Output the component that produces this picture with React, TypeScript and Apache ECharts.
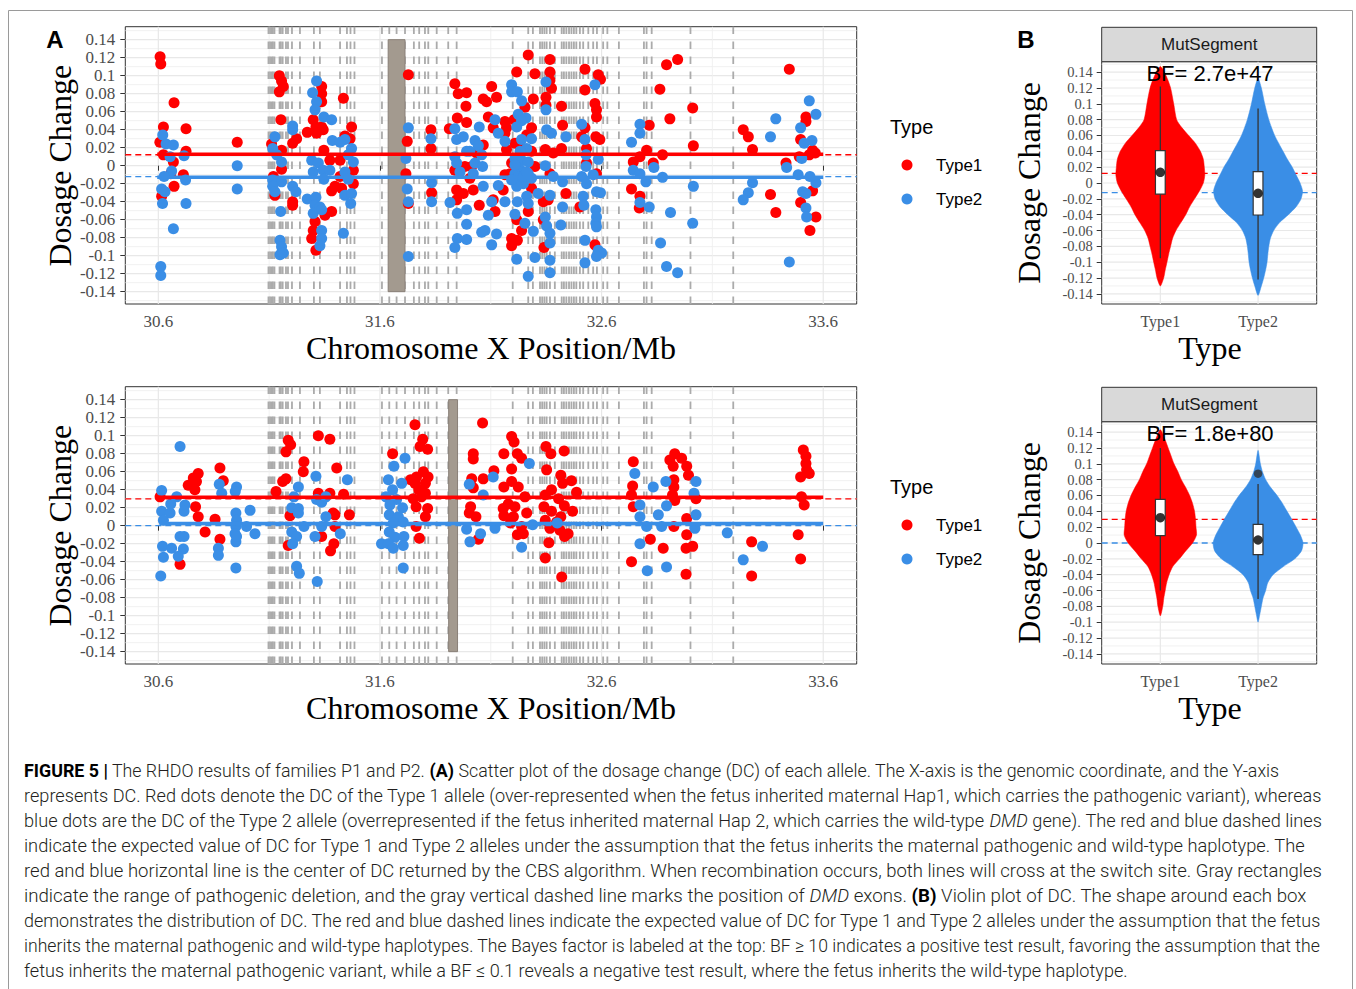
import React, { useEffect, useRef } from 'react';
import * as echarts from 'echarts';

// ---------------- data ----------------
const typeNames = ['Type1', 'Type2'];
const yTickValues = [-0.14, -0.12, -0.1, -0.08, -0.06, -0.04, -0.02, 0, 0.02, 0.04, 0.06, 0.08, 0.1, 0.12, 0.14];
const yMinorValues = [-0.15, -0.13, -0.11, -0.09, -0.07, -0.05, -0.03, -0.01, 0.01, 0.03, 0.05, 0.07, 0.09, 0.11, 0.13, 0.15];
const xTickValues = [30.6, 31.6, 32.6, 33.6];
const xMinorValues = [31.1, 32.1, 33.1];
const typeTickValues = [1, 2];

const scatterXRange = [30.451, 33.751];
const scatterYRange = [-0.1537, 0.1544];
const violinXRange = [0.4, 2.6];
const violinYRange = [-0.1528, 0.1532];

// DMD exon positions (Mb)
const exonPositions = [
  31.097, 31.104, 31.111, 31.117, 31.124, 31.147, 31.153, 31.161, 31.176, 31.185, 31.203, 31.239,
  31.302, 31.329, 31.42, 31.451, 31.467, 31.485, 31.609, 31.642, 31.675, 31.713, 31.753, 31.777,
  31.803, 31.818, 31.856, 31.908, 31.946, 32.199, 32.269, 32.29, 32.322, 32.332, 32.342, 32.352,
  32.367, 32.389, 32.42, 32.43, 32.441, 32.453, 32.464, 32.475, 32.486, 32.502, 32.517, 32.54,
  32.562, 32.579, 32.607, 32.626, 32.678, 32.791, 32.803, 32.826, 33.001, 33.194,
];

const deletionTop = [31.637, 31.713];
const deletionBottom = [31.91, 31.95];
const deletionY = [-0.14, 0.14];

// CBS segment centres and expected values
const cbsXTop = [30.595, 33.6];
const cbsXBottom = [30.605, 33.6];
const cbsTop = [0.0128, -0.0128];
const cbsBottom = [0.0316, 0.0025];
const expectedTop = [0.0122, -0.0122];
const expectedBottom = [0.0298, 0.0];

// Top panel (family P1)
const topType1 = [
  [30.608, 0.121], [30.611, 0.113], [30.671, 0.07], [30.623, 0.043], [30.725, 0.041], [30.607, 0.026], [30.623, 0.012], [30.668, 0.004], [30.725, 0.016], [30.656, -0.009], [30.713, -0.01], [30.671, -0.023], [30.615, -0.034],
  [30.956, 0.026],
  [31.146, 0.1], [31.156, 0.094], [31.164, 0.088], [31.146, 0.082], [31.153, 0.051], [31.111, 0.024], [31.156, 0.017], [31.156, -0.004], [31.119, -0.012], [31.126, -0.033], [31.224, 0.03], [31.206, 0.025], [31.206, -0.04], [31.206, -0.044],
  [31.337, 0.088], [31.337, 0.08], [31.337, 0.071], [31.299, 0.051], [31.311, 0.043], [31.337, 0.043], [31.272, 0.037], [31.314, 0.036], [31.344, 0.04], [31.347, 0.017], [31.374, 0.006], [31.382, -0.028], [31.352, -0.055], [31.382, -0.051], [31.307, -0.062], [31.299, -0.072], [31.292, -0.081], [31.311, -0.094],
  [31.435, 0.075], [31.472, 0.043], [31.442, 0.033], [31.465, 0.03], [31.42, 0.006], [31.48, -0.005], [31.42, -0.012], [31.48, -0.02], [31.397, -0.023], [31.427, -0.025],
  [31.728, 0.101], [31.723, 0.027], [31.717, -0.009], [31.728, -0.042], [31.83, 0.04], [31.83, 0.019], [31.833, -0.03],
  [31.913, 0.041], [31.938, 0.091], [31.953, 0.08], [31.991, 0.081], [31.988, 0.066], [31.949, 0.053], [31.991, 0.048], [31.938, -0.005], [31.983, -0.001], [31.946, -0.027], [31.976, -0.031], [31.946, -0.038],
  [32.104, 0.088], [32.066, 0.074], [32.081, 0.071], [32.126, 0.076], [32.089, 0.054], [32.164, 0.049], [32.111, 0.042], [32.171, 0.042], [32.066, 0.023], [32.036, 0.014], [32.014, -0.001], [32.006, -0.014], [32.021, -0.027], [32.156, -0.027], [32.111, -0.038], [32.048, -0.044], [32.119, -0.051],
  [32.269, 0.123], [32.367, 0.118], [32.217, 0.104], [32.299, 0.102], [32.367, 0.104], [32.367, 0.095], [32.374, 0.086], [32.349, 0.076], [32.292, 0.074], [32.254, 0.065], [32.349, 0.067], [32.419, 0.066], [32.205, 0.051], [32.284, 0.042], [32.424, 0.045], [32.164, 0.036], [32.262, 0.034], [32.209, 0.025], [32.232, 0.022], [32.346, 0.018], [32.419, 0.019], [32.382, 0.014], [32.194, 0.003], [32.299, -0.001], [32.187, -0.009], [32.367, -0.009], [32.284, -0.025], [32.439, -0.031], [32.337, -0.04], [32.359, -0.038], [32.269, -0.051], [32.217, -0.06], [32.337, -0.06], [32.239, -0.072], [32.194, -0.081], [32.22, -0.083], [32.194, -0.089], [32.34, -0.091],
  [32.171, 0.018], [32.284, 0.016], [32.164, -0.01],
  [32.525, 0.107], [32.585, 0.101], [32.595, 0.096], [32.525, 0.084], [32.57, 0.069], [32.577, 0.062], [32.577, 0.054], [32.525, 0.042], [32.51, 0.032], [32.574, 0.032], [32.592, 0.029], [32.532, 0.019], [32.532, 0.003], [32.577, -0.009], [32.502, -0.046], [32.57, -0.088],
  [32.893, 0.112], [32.943, 0.118], [32.863, 0.085], [33.011, 0.064], [32.908, 0.052], [32.815, 0.045], [33.014, 0.022], [32.803, 0.017], [32.875, 0.012], [32.773, 0.01], [32.743, 0.004], [32.833, 0.003], [32.735, -0.026], [32.773, -0.034], [32.77, -0.047],
  [33.447, 0.107], [33.522, 0.054], [33.522, 0.049], [33.239, 0.04], [33.262, 0.032], [33.498, 0.029], [33.281, 0.018], [33.552, 0.017], [33.564, 0.014], [33.492, 0.01], [33.537, 0.012], [33.432, 0.003], [33.362, -0.032], [33.552, -0.028], [33.498, -0.041], [33.386, -0.052], [33.567, -0.057], [33.54, -0.072],
];
const topType2 = [
  [30.62, 0.034], [30.635, 0.024], [30.668, 0.023], [30.653, 0.01], [30.716, 0.011], [30.66, -0.006], [30.626, -0.012], [30.723, -0.016], [30.615, -0.026], [30.63, -0.029], [30.619, -0.042], [30.725, -0.042], [30.668, -0.07], [30.611, -0.112], [30.611, -0.122],
  [30.956, 0.0], [30.956, -0.026],
  [31.126, 0.032], [31.116, 0.019], [31.134, 0.012], [31.156, 0.004], [31.116, -0.016], [31.156, -0.018], [31.116, -0.023], [31.126, -0.029], [31.152, -0.051], [31.149, -0.083], [31.156, -0.09], [31.149, -0.099], [31.164, -0.097], [31.206, 0.044], [31.206, 0.04], [31.206, -0.023], [31.221, -0.029],
  [31.314, 0.094], [31.296, 0.081], [31.314, 0.071], [31.307, 0.062], [31.347, 0.054], [31.382, 0.051], [31.385, 0.028], [31.292, 0.006], [31.322, 0.003], [31.299, -0.007], [31.344, -0.005], [31.374, -0.005], [31.347, -0.015], [31.272, -0.037], [31.311, -0.035], [31.307, -0.044], [31.329, -0.046], [31.299, -0.053], [31.337, -0.049], [31.337, -0.072], [31.337, -0.081], [31.329, -0.089],
  [31.442, 0.029], [31.42, 0.026], [31.472, 0.019], [31.457, 0.012], [31.48, 0.004], [31.442, -0.007], [31.457, -0.015], [31.442, -0.033], [31.472, -0.031], [31.468, -0.042], [31.435, -0.075],
  [31.728, 0.042], [31.717, 0.008], [31.723, -0.026], [31.728, -0.04], [31.728, -0.101], [31.83, 0.03], [31.833, -0.019], [31.833, -0.04],
  [31.938, 0.041], [31.946, 0.029], [31.976, 0.032], [31.991, 0.016], [31.938, 0.01], [31.946, 0.003], [31.961, -0.007], [31.916, -0.041], [31.949, -0.053], [31.991, -0.049], [31.991, -0.065], [31.949, -0.081], [31.991, -0.082], [31.938, -0.091],
  [32.119, 0.051], [32.048, 0.043], [32.134, 0.036], [32.164, 0.027], [32.029, 0.028], [32.044, 0.022], [32.005, 0.016], [32.059, 0.012], [32.029, 0.003], [32.063, -0.001], [32.021, -0.009], [32.066, -0.023], [32.134, -0.022], [32.104, -0.04], [32.164, -0.04], [32.089, -0.055], [32.074, -0.072], [32.059, -0.074], [32.126, -0.076], [32.104, -0.088],
  [32.349, 0.093], [32.194, 0.09], [32.194, 0.082], [32.22, 0.082], [32.239, 0.072], [32.349, 0.062], [32.224, 0.057], [32.259, 0.053], [32.239, 0.05], [32.217, 0.043], [32.352, 0.04], [32.374, 0.036], [32.239, 0.029], [32.284, 0.03], [32.439, 0.032], [32.262, 0.019], [32.209, 0.008], [32.239, 0.006], [32.269, 0.004], [32.346, 0.0], [32.232, -0.004], [32.209, -0.009], [32.269, -0.009], [32.224, -0.013], [32.382, -0.012], [32.424, -0.018], [32.247, -0.02], [32.217, -0.023], [32.314, -0.031], [32.367, -0.033], [32.262, -0.034], [32.269, -0.042], [32.22, -0.04], [32.424, -0.046], [32.209, -0.054], [32.346, -0.057], [32.254, -0.064], [32.416, -0.066], [32.352, -0.067], [32.292, -0.073], [32.367, -0.075], [32.367, -0.086], [32.217, -0.104], [32.299, -0.102], [32.367, -0.105], [32.367, -0.119], [32.269, -0.123],
  [32.232, 0.016], [32.209, 0.001], [32.247, -0.012], [32.194, -0.016], [32.284, -0.014], [32.262, -0.007],
  [32.57, 0.09], [32.51, 0.046], [32.525, 0.029], [32.53, 0.012], [32.585, 0.007], [32.53, -0.001], [32.562, -0.01], [32.51, -0.012], [32.532, -0.02], [32.577, -0.029], [32.595, -0.03], [32.517, -0.034], [32.52, -0.044], [32.574, -0.049], [32.577, -0.057], [32.574, -0.064], [32.577, -0.068], [32.525, -0.083], [32.585, -0.094], [32.6, -0.097], [32.577, -0.101], [32.525, -0.108],
  [32.773, 0.046], [32.773, 0.036], [32.735, 0.026], [32.836, -0.002], [32.743, -0.005], [32.773, -0.009], [32.875, -0.013], [32.8, -0.018], [33.014, -0.023], [32.773, -0.041], [32.815, -0.046], [32.911, -0.052], [33.011, -0.064], [32.866, -0.086], [32.893, -0.112], [32.943, -0.119],
  [33.537, 0.072], [33.567, 0.057], [33.386, 0.052], [33.498, 0.042], [33.362, 0.032], [33.549, 0.028], [33.514, 0.025], [33.503, 0.008], [33.435, -0.002], [33.487, -0.01], [33.54, -0.012], [33.281, -0.019], [33.567, -0.019], [33.262, -0.03], [33.239, -0.038], [33.507, -0.029], [33.522, -0.031], [33.522, -0.047], [33.525, -0.057], [33.447, -0.107],
];

// Bottom panel (family P2)
const bottomType1 = [
  [30.608, 0.032], [30.735, 0.045], [30.758, 0.053], [30.78, 0.058], [30.772, 0.049], [30.765, 0.04], [30.768, 0.021], [30.78, 0.01], [30.811, -0.007], [30.698, -0.043],
  [30.878, 0.064], [30.893, 0.05], [30.856, 0.007], [30.878, -0.015],
  [31.131, 0.038], [31.176, 0.052], [31.161, 0.049], [31.186, 0.095], [31.197, 0.09], [31.176, 0.082], [31.257, 0.071], [31.254, 0.06], [31.194, 0.011], [31.186, -0.022],
  [31.322, 0.1], [31.374, 0.096], [31.405, 0.064], [31.322, 0.036], [31.374, 0.036], [31.436, 0.035], [31.389, 0.014], [31.462, 0.012], [31.397, 0.012], [31.397, -0.001], [31.337, -0.012], [31.392, -0.02], [31.377, -0.028],
  [31.657, 0.08], [31.758, 0.112], [31.793, 0.096], [31.781, 0.088], [31.815, 0.085], [31.738, 0.051], [31.765, 0.054], [31.796, 0.06], [31.817, 0.054], [31.758, 0.047], [31.805, 0.047], [31.775, 0.04], [31.805, 0.036], [31.75, 0.03], [31.787, 0.032], [31.763, 0.021], [31.815, 0.019], [31.805, 0.01], [31.763, -0.001], [31.778, -0.014],
  [32.014, 0.052], [32.021, 0.08], [32.021, 0.074], [32.063, 0.114], [32.066, 0.052], [32.021, 0.042], [32.009, 0.021], [32.003, 0.014], [32.033, 0.01], [32.044, -0.015],
  [32.114, 0.061], [32.159, 0.08], [32.194, 0.099], [32.205, 0.093], [32.22, 0.08], [32.239, 0.075], [32.194, 0.063], [32.159, 0.043], [32.194, 0.049], [32.224, 0.043], [32.254, 0.032], [32.156, 0.019], [32.179, 0.024], [32.209, 0.021], [32.159, 0.011], [32.202, 0.01], [32.262, 0.014], [32.189, 0.003], [32.239, -0.001], [32.22, -0.01], [32.247, -0.009],
  [32.349, 0.088], [32.371, 0.08], [32.431, 0.083], [32.352, 0.062], [32.374, 0.04], [32.416, 0.056], [32.424, 0.047], [32.464, 0.05], [32.487, 0.037], [32.346, 0.034], [32.406, 0.03], [32.34, 0.021], [32.374, 0.016], [32.432, 0.022], [32.469, 0.016], [32.416, 0.01], [32.346, 0.006], [32.397, 0.004], [32.367, -0.003], [32.412, -0.005], [32.449, -0.009], [32.433, -0.012], [32.362, -0.019], [32.346, -0.036], [32.42, -0.057],
  [32.743, 0.071], [32.74, 0.044], [32.735, 0.034], [32.743, 0.021], [32.735, -0.04], [32.82, -0.015], [32.878, -0.025],
  [32.93, 0.08], [32.908, 0.073], [32.961, 0.075], [32.923, 0.066], [32.984, 0.066], [32.992, 0.056], [32.926, 0.051], [32.926, 0.043], [32.92, 0.034], [32.93, 0.028], [33.026, 0.03], [32.984, 0.008], [32.926, -0.001], [32.984, -0.01], [32.981, -0.025], [33.011, -0.023], [32.981, -0.054],
  [33.277, -0.018], [33.277, -0.056],
  [33.51, 0.084], [33.522, 0.077], [33.522, 0.069], [33.525, 0.062], [33.537, 0.058], [33.498, 0.054], [33.502, 0.032], [33.514, 0.023], [33.487, -0.01], [33.498, -0.037],
];
const bottomType2 = [
  [30.698, 0.088], [30.615, 0.039], [30.683, 0.032], [30.656, 0.024], [30.72, 0.023], [30.716, 0.016], [30.615, 0.016], [30.653, 0.014], [30.623, 0.006], [30.698, -0.012], [30.716, -0.012], [30.619, -0.023], [30.66, -0.025], [30.713, -0.026], [30.623, -0.035], [30.69, -0.034], [30.611, -0.056],
  [30.875, 0.046], [30.886, 0.036], [30.871, -0.025], [30.871, -0.033],
  [30.953, 0.043], [30.947, 0.038], [30.95, 0.014], [30.953, 0.006], [30.95, -0.001], [31.014, 0.017], [30.998, -0.001], [31.036, -0.009], [30.946, -0.009], [30.95, -0.018], [30.953, -0.012], [30.95, -0.047],
  [31.232, 0.043], [31.212, 0.032], [31.202, 0.02], [31.232, 0.019], [31.232, 0.014], [31.257, -0.001], [31.202, -0.007], [31.224, -0.012], [31.206, -0.02], [31.224, -0.045], [31.236, -0.053], [31.317, -0.062],
  [31.311, 0.055], [31.453, 0.051], [31.314, 0.029], [31.337, 0.026], [31.356, 0.032], [31.356, 0.01], [31.337, -0.001], [31.421, -0.009], [31.307, -0.012],
  [31.713, 0.075], [31.663, 0.066], [31.638, 0.051], [31.698, 0.047], [31.657, 0.04], [31.627, 0.032], [31.675, 0.029], [31.645, 0.023], [31.702, 0.02], [31.642, 0.012], [31.683, 0.01], [31.705, 0.004], [31.66, 0.003], [31.642, -0.007], [31.668, -0.013], [31.708, -0.012], [31.607, -0.02], [31.638, -0.02], [31.66, -0.025], [31.705, -0.022], [31.705, -0.047],
  [32.003, 0.046], [32.066, 0.034], [31.991, -0.004], [32.006, -0.018], [32.054, -0.009], [32.119, -0.003], [32.111, 0.054], [32.274, 0.069], [32.289, 0.001], [32.239, -0.024], [32.4, 0.003],
  [32.75, 0.058], [32.773, 0.023], [32.773, 0.01], [32.803, -0.001], [32.773, -0.02], [32.806, -0.05], [32.833, 0.043], [32.89, 0.049], [32.856, 0.012], [32.871, -0.001], [32.893, -0.046], [32.893, 0.022], [33.017, 0.036], [33.026, 0.049], [33.026, 0.012], [33.021, -0.003],
  [33.167, -0.008], [33.239, -0.038], [33.326, -0.023],
];

// Violin half-width profiles: [dosage change, half width in category units]
const violinTop1 = [[0.147, 0], [0.135, 0.06], [0.12, 0.105], [0.1, 0.137], [0.08, 0.167], [0.07, 0.22], [0.06, 0.29], [0.05, 0.36], [0.04, 0.41], [0.03, 0.44], [0.02, 0.45], [0.01, 0.455], [0, 0.44], [-0.01, 0.4], [-0.02, 0.35], [-0.03, 0.3], [-0.04, 0.26], [-0.05, 0.21], [-0.06, 0.16], [-0.07, 0.125], [-0.08, 0.105], [-0.09, 0.085], [-0.1, 0.068], [-0.11, 0.05], [-0.12, 0.034], [-0.13, 0]];
const violinTop2 = [[0.132, 0], [0.12, 0.034], [0.1, 0.068], [0.08, 0.11], [0.06, 0.17], [0.04, 0.256], [0.03, 0.3], [0.02, 0.35], [0.01, 0.39], [0, 0.43], [-0.01, 0.455], [-0.02, 0.44], [-0.03, 0.39], [-0.04, 0.31], [-0.05, 0.22], [-0.06, 0.16], [-0.07, 0.126], [-0.08, 0.11], [-0.09, 0.1], [-0.1, 0.092], [-0.11, 0.077], [-0.12, 0.058], [-0.13, 0.034], [-0.142, 0]];
const violinBottom1 = [[0.143, 0], [0.13, 0.05], [0.12, 0.08], [0.11, 0.11], [0.1, 0.14], [0.09, 0.18], [0.08, 0.215], [0.07, 0.26], [0.06, 0.3], [0.05, 0.33], [0.04, 0.35], [0.03, 0.36], [0.02, 0.365], [0.01, 0.37], [0, 0.33], [-0.01, 0.26], [-0.02, 0.195], [-0.03, 0.126], [-0.04, 0.09], [-0.05, 0.065], [-0.06, 0.05], [-0.07, 0.035], [-0.08, 0.025], [-0.092, 0]];
const violinBottom2 = [[0.117, 0], [0.1, 0.024], [0.09, 0.045], [0.08, 0.078], [0.07, 0.13], [0.06, 0.195], [0.05, 0.25], [0.04, 0.297], [0.03, 0.345], [0.02, 0.39], [0.01, 0.433], [0, 0.46], [-0.01, 0.444], [-0.02, 0.375], [-0.03, 0.256], [-0.04, 0.154], [-0.05, 0.1], [-0.06, 0.078], [-0.07, 0.05], [-0.08, 0.034], [-0.09, 0.018], [-0.1, 0]];

// Box statistics: [type position, lower whisker, Q1, Q3, upper whisker]
const boxTop = [[1, -0.095, -0.014, 0.041, 0.122], [2, -0.122, -0.0404, 0.0143, 0.094]];
const boxBottom = [[1, -0.06, 0.0093, 0.055, 0.12], [2, -0.0707, -0.0147, 0.0236, 0.0745]];
const meanTop = [[1, 0.0135], [2, -0.013]];
const meanBottom = [[1, 0.032], [2, 0.0038]];
const outlierBottom = [[2, 0.0876]];

const bfLabels = ['BF= 2.7e+47', 'BF= 1.8e+80'];
const stripLabel = 'MutSegment';

type Seg = [string, string];
const captionLines: Seg[][] = [
  [['FIGURE 5 |', 'b'], [' The RHDO results of families P1 and P2. ', 'n'], ['(A)', 'b'], [' Scatter plot of the dosage change (DC) of each allele. The X-axis is the genomic coordinate, and the Y-axis', 'n']],
  [['represents DC. Red dots denote the DC of the Type 1 allele (over-represented when the fetus inherited maternal Hap1, which carries the pathogenic variant), whereas', 'n']],
  [['blue dots are the DC of the Type 2 allele (overrepresented if the fetus inherited maternal Hap 2, which carries the wild-type ', 'n'], ['DMD', 'i'], [' gene). The red and blue dashed lines', 'n']],
  [['indicate the expected value of DC for Type 1 and Type 2 alleles under the assumption that the fetus inherits the maternal pathogenic and wild-type haplotype. The', 'n']],
  [['red and blue horizontal line is the center of DC returned by the CBS algorithm. When recombination occurs, both lines will cross at the switch site. Gray rectangles', 'n']],
  [['indicate the range of pathogenic deletion, and the gray vertical dashed line marks the position of ', 'n'], ['DMD', 'i'], [' exons. ', 'n'], ['(B)', 'b'], [' Violin plot of DC. The shape around each box', 'n']],
  [['demonstrates the distribution of DC. The red and blue dashed lines indicate the expected value of DC for Type 1 and Type 2 alleles under the assumption that the fetus', 'n']],
  [['inherits the maternal pathogenic and wild-type haplotypes. The Bayes factor is labeled at the top: BF \u2265 10 indicates a positive test result, favoring the assumption that the', 'n']],
  [['fetus inherits the maternal pathogenic variant, while a BF \u2264 0.1 reveals a negative test result, where the fetus inherits the wild-type haplotype.', 'n']],
];
const captionRight = [1279, 1322, 1322, 1307, 1322, 1307, 1322, 1322, 1128];

// ---------------- styling ----------------
const RED = '#ff0000';
const BLUE = '#3a8ee6';
const SERIF = 'Liberation Serif';
const SANS = 'Liberation Sans';
const CAP_FONT = 'Roboto';
const CAP_SIZE = 18;

const SC_LEFT = 125.3, SC_W = 731.4, SC_H = 277.3;
const SC_TOPS = [26.7, 386.7];
const VI_LEFT = 1101.7, VI_W = 215, VI_H = 242.3;
const VI_TOPS = [61.7, 421.7];

const fmtNum = (v: number) => String(parseFloat(Number(v).toFixed(3)));

function makeAxis(gridIndex: number, range: number[], ticks: number[], fmt: (v: number) => string, fontSize: number, margin: number) {
  return {
    type: 'value', gridIndex, min: range[0], max: range[1],
    axisLine: { show: false }, splitLine: { show: false }, minorSplitLine: { show: false },
    axisTick: { show: true, customValues: ticks, length: 5, lineStyle: { color: '#333', width: 1 } },
    axisLabel: {
      show: true, customValues: ticks, margin, formatter: fmt, showMinLabel: true, showMaxLabel: true, hideOverlap: false,
      fontFamily: SERIF, fontSize, color: '#4d4d4d',
    },
  };
}

function hLines(ax: number, xr: number[], values: number[], color: string, width: number, z: number) {
  return {
    type: 'custom', xAxisIndex: ax, yAxisIndex: ax, silent: true, z,
    data: values.map((v) => [v]),
    renderItem: (_p: any, api: any) => {
      const v = api.value(0);
      const a = api.coord([xr[0], v]);
      const b = api.coord([xr[1], v]);
      return { type: 'line', shape: { x1: a[0], y1: a[1], x2: b[0], y2: b[1] }, style: { stroke: color, lineWidth: width } };
    },
  };
}
function vLines(ax: number, yr: number[], values: number[], style: any, z: number) {
  return {
    type: 'custom', xAxisIndex: ax, yAxisIndex: ax, silent: true, z,
    data: values.map((v) => [v]),
    renderItem: (_p: any, api: any) => {
      const v = api.value(0);
      const a = api.coord([v, yr[0]]);
      const b = api.coord([v, yr[1]]);
      return { type: 'line', shape: { x1: a[0], y1: a[1], x2: b[0], y2: b[1] }, style };
    },
  };
}
function segLine(ax: number, xr: number[], y: number, color: string, width: number, dashed: boolean, z: number) {
  return {
    type: 'line', xAxisIndex: ax, yAxisIndex: ax, silent: true, z, symbol: 'none', showSymbol: false,
    data: [[xr[0], y], [xr[1], y]],
    lineStyle: { color, width, type: dashed ? [6, 4] : 'solid' },
  };
}

function scatterPanel(ax: number, t1: number[][], t2: number[][], del: number[], cbsX: number[], cbs: number[], exp: number[]) {
  return [
    hLines(ax, scatterXRange, yMinorValues, '#ededed', 0.8, 0),
    hLines(ax, scatterXRange, yTickValues, '#e8e8e8', 1.2, 0),
    vLines(ax, scatterYRange, xMinorValues, { stroke: '#ededed', lineWidth: 0.8 }, 0),
    vLines(ax, scatterYRange, xTickValues, { stroke: '#e8e8e8', lineWidth: 1.2 }, 0),
    vLines(ax, scatterYRange, exonPositions, { stroke: '#ababab', lineWidth: 1.8, lineDash: [7.5, 7.5] }, 1),
    {
      type: 'custom', xAxisIndex: ax, yAxisIndex: ax, silent: true, z: 2,
      data: [[del[0], del[1]]],
      renderItem: (_p: any, api: any) => {
        const a = api.coord([api.value(0), deletionY[1]]);
        const b = api.coord([api.value(1), deletionY[0]]);
        return { type: 'rect', shape: { x: a[0], y: a[1], width: b[0] - a[0], height: b[1] - a[1] }, style: { fill: '#a39a8f', stroke: '#8a8078', lineWidth: 1 } };
      },
    },
    { type: 'scatter', name: typeNames[0], xAxisIndex: ax, yAxisIndex: ax, z: 3, silent: true, symbol: 'circle', symbolSize: 11, itemStyle: { color: RED, opacity: 1 }, data: t1 },
    { type: 'scatter', name: typeNames[1], xAxisIndex: ax, yAxisIndex: ax, z: 3, silent: true, symbol: 'circle', symbolSize: 11, itemStyle: { color: BLUE, opacity: 1 }, data: t2 },
    segLine(ax, scatterXRange, exp[0], RED, 1.4, true, 4),
    segLine(ax, scatterXRange, exp[1], BLUE, 1.4, true, 4),
    segLine(ax, cbsX, cbs[0], RED, 3.5, false, 5),
    segLine(ax, cbsX, cbs[1], BLUE, 3.5, false, 5),
  ];
}

function violinSeries(ax: number, profile: number[][], center: number, color: string) {
  return {
    type: 'custom', xAxisIndex: ax, yAxisIndex: ax, silent: true, z: 3,
    data: [[center]],
    renderItem: (_p: any, api: any) => {
      const c = api.value(0);
      const pts: number[][] = [];
      for (let i = 0; i < profile.length; i++) pts.push(api.coord([c - profile[i][1], profile[i][0]]));
      for (let i = profile.length - 2; i >= 1; i--) pts.push(api.coord([c + profile[i][1], profile[i][0]]));
      return { type: 'polygon', shape: { points: pts, smooth: 0.25 }, style: { fill: color, stroke: color, lineWidth: 0.5 } };
    },
  };
}

function violinPanel(ax: number, v1: number[][], v2: number[][], boxes: number[][], means: number[][], outliers: number[][], exp: number[]) {
  const s: any[] = [
    hLines(ax, violinXRange, yMinorValues, '#ededed', 0.8, 0),
    hLines(ax, violinXRange, yTickValues, '#e8e8e8', 1.2, 0),
    vLines(ax, violinYRange, typeTickValues, { stroke: '#e8e8e8', lineWidth: 1.2 }, 0),
    segLine(ax, violinXRange, exp[0], RED, 1.4, true, 1),
    segLine(ax, violinXRange, exp[1], BLUE, 1.4, true, 1),
    violinSeries(ax, v1, typeTickValues[0], RED),
    violinSeries(ax, v2, typeTickValues[1], BLUE),
    {
      type: 'custom', xAxisIndex: ax, yAxisIndex: ax, silent: true, z: 4,
      data: boxes,
      renderItem: (_p: any, api: any) => {
        const c = api.value(0);
        const lo = api.coord([c, api.value(1)]);
        const hi = api.coord([c, api.value(4)]);
        const q1 = api.coord([c - 0.05, api.value(2)]);
        const q3 = api.coord([c + 0.05, api.value(3)]);
        return {
          type: 'group',
          children: [
            { type: 'line', shape: { x1: lo[0], y1: lo[1], x2: hi[0], y2: hi[1] }, style: { stroke: '#333', lineWidth: 1.3 } },
            { type: 'rect', shape: { x: q1[0], y: q3[1], width: q3[0] - q1[0], height: q1[1] - q3[1] }, style: { fill: '#fff', stroke: '#333', lineWidth: 1.2 } },
          ],
        };
      },
    },
    { type: 'scatter', xAxisIndex: ax, yAxisIndex: ax, z: 5, silent: true, symbol: 'circle', symbolSize: 9.5, itemStyle: { color: '#000' }, data: means },
  ];
  if (outliers.length) {
    s.push({ type: 'scatter', xAxisIndex: ax, yAxisIndex: ax, z: 5, silent: true, symbol: 'circle', symbolSize: 8.5, itemStyle: { color: '#333' }, data: outliers });
  }
  return s;
}

function txt(x: number, y: number, text: string, fontFamily: string, fontSize: number, extra: any = {}, styleExtra: any = {}) {
  return {
    type: 'text', x, y, ...extra,
    style: { text, fontFamily, fontSize, fill: '#000', align: 'center', verticalAlign: 'middle', ...styleExtra },
  };
}

function buildGraphics() {
  const g: any[] = [];
  g.push({ type: 'rect', silent: true, shape: { x: 8.5, y: 10.5, width: 1344, height: 1000 }, style: { fill: 'none', stroke: '#9a9a9a', lineWidth: 1 } });
  g.push(txt(55, 39, 'A', SANS, 24, {}, { fontWeight: 'bold' }));
  g.push(txt(1026, 39, 'B', SANS, 24, {}, { fontWeight: 'bold' }));
  for (let p = 0; p < 2; p++) {
    const dy = p * 360;
    g.push(txt(60, 165.7 + dy, 'Dosage Change', SERIF, 32, { rotation: Math.PI / 2 }));
    g.push(txt(491, 348 + dy, 'Chromosome X Position/Mb', SERIF, 32));
    g.push(txt(1029, 183 + dy, 'Dosage Change', SERIF, 32, { rotation: Math.PI / 2 }));
    g.push(txt(1210, 348 + dy, 'Type', SERIF, 32));
    // legend
    g.push(txt(890, 127 + dy, 'Type', SANS, 20, {}, { align: 'left' }));
    g.push({ type: 'circle', shape: { cx: 907, cy: 165 + dy, r: 5.5 }, style: { fill: RED } });
    g.push(txt(936, 165 + dy, typeNames[0], SANS, 17, {}, { align: 'left' }));
    g.push({ type: 'circle', shape: { cx: 907, cy: 199 + dy, r: 5.5 }, style: { fill: BLUE } });
    g.push(txt(936, 199 + dy, typeNames[1], SANS, 17, {}, { align: 'left' }));
    // facet strip
    g.push({ type: 'rect', shape: { x: VI_LEFT, y: 27.3 + dy, width: VI_W, height: 34.4 }, style: { fill: '#d9d9d9', stroke: '#333', lineWidth: 1 } });
    g.push(txt(VI_LEFT + VI_W / 2, 44.5 + dy, stripLabel, SANS, 17, {}, { fill: '#1a1a1a' }));
    g.push(txt(1210, 73 + dy, bfLabels[p], SANS, 22, { z: 100 }));
  }
  // caption
  const ctx = document.createElement('canvas').getContext('2d') as CanvasRenderingContext2D;
  const weightOf = (k: string) => (k === 'b' ? 'bold' : '300');
  const fontOf = (k: string) => `${k === 'i' ? 'italic' : 'normal'} ${weightOf(k)} ${CAP_SIZE}px ${CAP_FONT}`;
  const rich: any = {
    n: { fontFamily: CAP_FONT, fontSize: CAP_SIZE, fontWeight: '300', fontStyle: 'normal', fill: '#231f20' },
    b: { fontFamily: CAP_FONT, fontSize: CAP_SIZE, fontWeight: 'bold', fontStyle: 'normal', fill: '#000' },
    i: { fontFamily: CAP_FONT, fontSize: CAP_SIZE, fontWeight: '300', fontStyle: 'italic', fill: '#231f20' },
  };
  captionLines.forEach((segs, i) => {
    let w = 0;
    segs.forEach(([t, k]) => { ctx.font = fontOf(k); w += ctx.measureText(t).width; });
    const sx = (captionRight[i] - 24) / w;
    g.push({
      type: 'text', x: 24, y: 770 + i * 25.1, scaleX: sx, scaleY: 1,
      style: { text: segs.map(([t, k]) => `{${k}|${t}}`).join(''), rich, fontFamily: CAP_FONT, fontSize: CAP_SIZE, fontWeight: '300', fill: '#231f20', align: 'left', verticalAlign: 'middle' },
    });
  });
  return g;
}

function buildOption() {
  const grids = [
    { left: SC_LEFT, top: SC_TOPS[0], width: SC_W, height: SC_H },
    { left: SC_LEFT, top: SC_TOPS[1], width: SC_W, height: SC_H },
    { left: VI_LEFT, top: VI_TOPS[0], width: VI_W, height: VI_H },
    { left: VI_LEFT, top: VI_TOPS[1], width: VI_W, height: VI_H },
  ].map((g) => ({ ...g, show: true, borderColor: '#333', borderWidth: 1, backgroundColor: 'transparent', containLabel: false, outerBoundsMode: 'none' }));
  const typeFmt = (v: number) => typeNames[Math.round(v) - 1] || '';
  const xAxis = [
    makeAxis(0, scatterXRange, xTickValues, fmtNum, 17, 9),
    makeAxis(1, scatterXRange, xTickValues, fmtNum, 17, 9),
    makeAxis(2, violinXRange, typeTickValues, typeFmt, 16, 9),
    makeAxis(3, violinXRange, typeTickValues, typeFmt, 16, 9),
  ];
  const yAxis = [
    makeAxis(0, scatterYRange, yTickValues, fmtNum, 17, 10),
    makeAxis(1, scatterYRange, yTickValues, fmtNum, 17, 10),
    makeAxis(2, violinYRange, yTickValues, fmtNum, 14.5, 9),
    makeAxis(3, violinYRange, yTickValues, fmtNum, 14.5, 9),
  ];
  const series = [
    ...scatterPanel(0, topType1, topType2, deletionTop, cbsXTop, cbsTop, expectedTop),
    ...scatterPanel(1, bottomType1, bottomType2, deletionBottom, cbsXBottom, cbsBottom, expectedBottom),
    ...violinPanel(2, violinTop1, violinTop2, boxTop, meanTop, [], expectedTop),
    ...violinPanel(3, violinBottom1, violinBottom2, boxBottom, meanBottom, outlierBottom, expectedBottom),
  ];
  return {
    animation: false,
    backgroundColor: '#fff',
    grid: grids,
    xAxis,
    yAxis,
    series,
    graphic: buildGraphics(),
  };
}

export default function App() {
  const ref = useRef<HTMLDivElement>(null);
  useEffect(() => {
    if (!ref.current) return;
    const chart = echarts.init(ref.current, null, { renderer: 'svg' });
    chart.setOption(buildOption() as any);
    return () => chart.dispose();
  }, []);
  return <div ref={ref} style={{ position: 'absolute', left: 0, top: 0, width: 1356, height: 989, background: '#fff' }} />;
}
